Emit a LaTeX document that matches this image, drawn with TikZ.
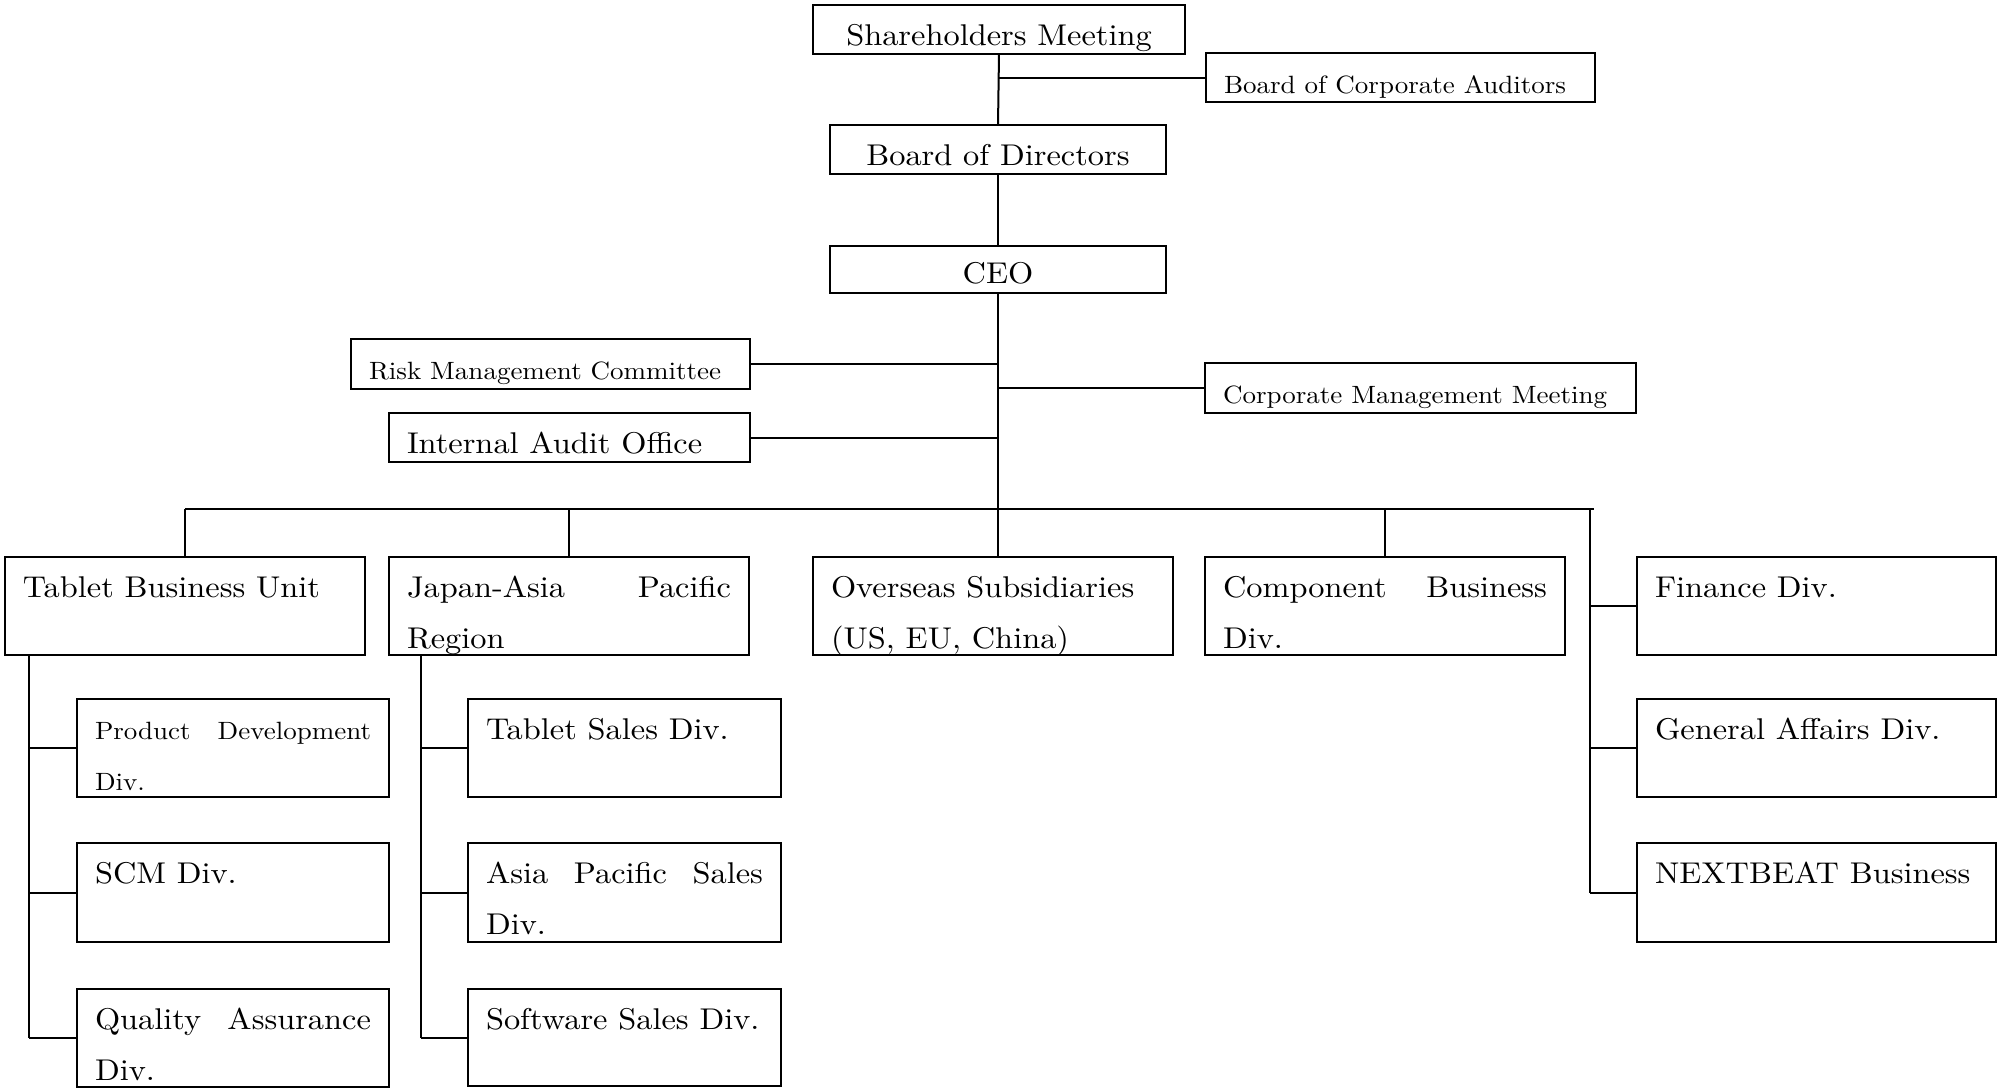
\documentclass[tikz,border=0pt]{standalone}
\usepackage{fontspec}
\setmainfont{lmroman10-regular.otf}[FakeStretch=1.08]
\newcommand\bigf{\fontsize{30}{51}\selectfont}
\newcommand\smf{\fontsize{25}{51}\selectfont}
\newcommand\cellL[4]{\parbox[t][#2pt][t]{#1pt}{#3\parindent=0pt\leftskip=18pt\rightskip=18pt\rule{0pt}{40pt}#4\par}}
\newcommand\cellC[5]{\parbox[t][#2pt][t]{#1pt}{#3\parindent=0pt\centering\rule{0pt}{#4pt}#5\par}}
\tikzset{
  bx/.style={draw, line width=2pt, anchor=north west, inner sep=0pt, outer sep=0pt},
  ln/.style={line width=2pt}
}
\begin{document}
\begin{tikzpicture}[x=1pt,y=-1pt]
\useasboundingbox (0,0) rectangle (1998,1088);
% top
\node[bx] (sh)  at (813,5)   {\cellC{372}{49}{\bigf}{40}{Shareholders Meeting}};
\node[bx] (bca) at (1206,53) {\cellL{389}{49}{\smf}{Board of Corporate Auditors}};
\node[bx] (bod) at (830,125) {\cellC{336}{49}{\bigf}{40}{Board of Directors}};
\node[bx] (ceo) at (830,246) {\cellC{336}{47}{\bigf}{37}{CEO}};
\node[bx] (rmc) at (351,339) {\cellL{399}{50}{\smf}{Risk Management Committee}};
\node[bx] (iao) at (389,413) {\cellL{361}{49}{\bigf}{Internal Audit Office}};
\node[bx] (cmm) at (1205,363) {\cellL{431}{50}{\smf}{Corporate Management Meeting}};
% second row
\node[bx] (tbu) at (5,557)    {\cellL{360}{98}{\bigf}{Tablet Business Unit}};
\node[bx] (jap) at (389,557)  {\cellL{360}{98}{\bigf}{Japan-Asia\hfill Pacific\\Region}};
\node[bx] (ovs) at (813,557)  {\cellL{360}{98}{\bigf}{Overseas Subsidiaries\\(US, EU, China)}};
\node[bx] (cmp) at (1205,557) {\cellL{360}{98}{\bigf}{Component\hfill Business\\Div.}};
\node[bx] (fin) at (1637,557) {\cellL{359}{98}{\bigf}{Finance Div.}};
\node[bx] (ga)  at (1637,699) {\cellL{359}{98}{\bigf}{General Affairs Div.}};
\node[bx] (nb)  at (1637,843) {\cellL{359}{99}{\bigf}{NEXTBEAT Business}};
% left subtree
\node[bx] (pdd) at (77,699)  {\cellL{312}{98}{\smf}{Product\hfill Development\\Div.}};
\node[bx] (scm) at (77,843)  {\cellL{312}{99}{\bigf}{SCM Div.}};
\node[bx] (qa)  at (77,989)  {\cellL{312}{98}{\bigf}{Quality\hfill Assurance\\Div.}};
% japan subtree
\node[bx] (tsd) at (468,699) {\cellL{313}{98}{\bigf}{Tablet Sales Div.}};
\node[bx] (aps) at (468,843) {\cellL{313}{99}{\bigf}{Asia\hfill Pacific\hfill Sales\\Div.}};
\node[bx] (ssd) at (468,989) {\cellL{313}{97}{\bigf}{Software Sales Div.}};
% coordinates
\coordinate (busL) at (185,509);
\coordinate (busR) at (1594,509);
\coordinate (rv) at (1590,509);
\coordinate (lv) at (29,655);
\coordinate (jv) at (421,655);
% connectors
\draw[ln] (sh.south) -- (bod.north);
\draw[ln] (bca.west) -- (bca.west -| sh.south);
\draw[ln] (bod.south) -- (ceo.north);
\draw[ln] (ceo.south) -- (ceo.south |- ovs.north);
\draw[ln] (rmc.east) -- (rmc.east -| ceo.south);
\draw[ln] (iao.east) -- (iao.east -| ceo.south);
\draw[ln] (cmm.west) -- (cmm.west -| ceo.south);
\draw[ln] (busL) -- (busR);
\draw[ln] (tbu.north) -- (tbu.north |- busL);
\draw[ln] (jap.north) -- (jap.north |- busL);
\draw[ln] (cmp.north) -- (cmp.north |- busL);
\draw[ln] (rv) -- (rv |- nb.west);
\draw[ln] (fin.west) -- (fin.west -| rv);
\draw[ln] (ga.west) -- (ga.west -| rv);
\draw[ln] (nb.west) -- (nb.west -| rv);
\draw[ln] (lv) -- (lv |- qa.west);
\draw[ln] (pdd.west) -- (pdd.west -| lv);
\draw[ln] (scm.west) -- (scm.west -| lv);
\draw[ln] (qa.west) -- (qa.west -| lv);
\draw[ln] (jv) -- (jv |- ssd.west);
\draw[ln] (tsd.west) -- (tsd.west -| jv);
\draw[ln] (aps.west) -- (aps.west -| jv);
\draw[ln] (ssd.west) -- (ssd.west -| jv);
\end{tikzpicture}
\end{document}
